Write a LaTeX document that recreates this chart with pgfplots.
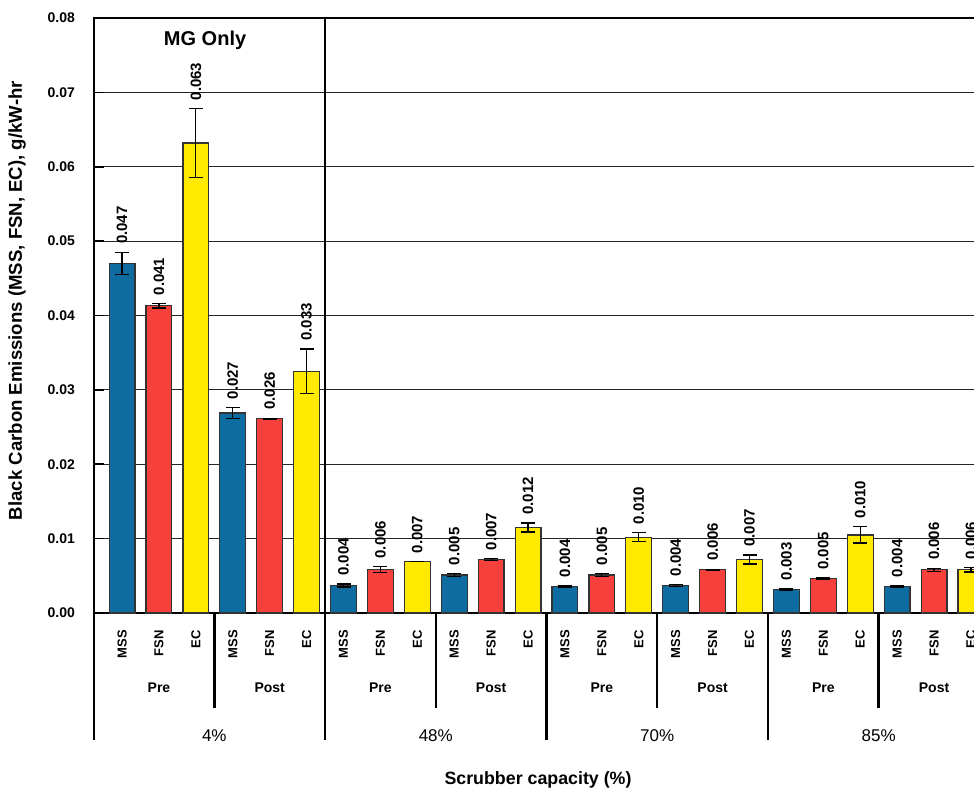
\documentclass[border=0pt]{standalone}
\usepackage{fontspec}
\setmainfont{Liberation Sans}
\usepackage{pgfplots}
\pgfplotsset{compat=1.18}
\usepackage{pgfplotstable}
\definecolor{cMSS}{RGB}{14,108,160}
\definecolor{cFSN}{RGB}{246,64,60}
\definecolor{cEC}{RGB}{255,234,0}

\pgfplotstableread{
x y e l
0 0.0470 0.0015 0.047
3 0.0269 0.0007 0.027
6 0.0037 0.0002 0.004
9 0.0051 0.0002 0.005
12 0.0036 0.0001 0.004
15 0.0037 0.0001 0.004
18 0.0032 0.0001 0.003
21 0.0036 0.0001 0.004
}\mss
\pgfplotstableread{
x y e l
1 0.0413 0.0003 0.041
4 0.0261 0.0001 0.026
7 0.0058 0.0004 0.006
10 0.0072 0.0001 0.007
13 0.0051 0.0002 0.005
16 0.0058 0.0001 0.006
19 0.0046 0.0001 0.005
22 0.0058 0.0002 0.006
}\fsn
\pgfplotstableread{
x y e l
2 0.0632 0.0046 0.063
5 0.0325 0.0030 0.033
8 0.0069 0.0000 0.007
11 0.0115 0.0006 0.012
14 0.0102 0.0006 0.010
17 0.0072 0.0006 0.007
20 0.0105 0.0011 0.010
23 0.0058 0.0003 0.006
}\ec

\newcommand{\fs}[1]{\fontsize{#1}{#1}\selectfont}

\begin{document}
\begin{tikzpicture}
\clip (-47pt,-87pt) rectangle (440pt,306.5pt);
\begin{axis}[
  scale only axis, width=452.5pt, height=297.5pt,
  xmin=-0.76, xmax=23.76, ymin=0, ymax=0.08,
  clip=false,
  axis line style={line width=1.4pt},
  ytick={0,0.01,0.02,0.03,0.04,0.05,0.06,0.07,0.08},
  yticklabels={0.00,0.01,0.02,0.03,0.04,0.05,0.06,0.07,0.08},
  ytick pos=left, tick align=inside, major tick length=5pt,
  ytick style={line width=0.8pt, black},
  yticklabel style={font=\fs{7}\bfseries, xshift=-6pt},
  ymajorgrids, grid style={line width=0.6pt, black!85},
  xtick={0,...,23},
  xticklabels={MSS,FSN,EC,MSS,FSN,EC,MSS,FSN,EC,MSS,FSN,EC,MSS,FSN,EC,MSS,FSN,EC,MSS,FSN,EC,MSS,FSN,EC},
  xtick style={draw=none},
  xticklabel style={rotate=90, anchor=east, font=\fs{6.5}\bfseries},
  xticklabel shift=5pt,
  every node near coord/.append style={rotate=90, anchor=west, inner xsep=4pt, inner ysep=0pt, font=\fs{7.5}\bfseries, black},
]
\addplot[ybar, bar width=0.7, bar shift=0pt, fill=cMSS, draw=black!80, line width=0.6pt,
  error bars/.cd, y dir=both, y explicit, error bar style={black, line width=0.6pt},
  error mark options={black, rotate=90, mark size=3.5pt, line width=0.6pt}]
  table[x=x, y=y, y error=e]{\mss};
\addplot[ybar, bar width=0.7, bar shift=0pt, fill=cFSN, draw=black!80, line width=0.6pt,
  error bars/.cd, y dir=both, y explicit, error bar style={black, line width=0.6pt},
  error mark options={black, rotate=90, mark size=3.5pt, line width=0.6pt}]
  table[x=x, y=y, y error=e]{\fsn};
\addplot[ybar, bar width=0.7, bar shift=0pt, fill=cEC, draw=black!80, line width=0.6pt,
  error bars/.cd, y dir=both, y explicit, error bar style={black, line width=0.6pt},
  error mark options={black, rotate=90, mark size=3.5pt, line width=0.6pt}]
  table[x=x, y=y, y error=e]{\ec};

\addplot[draw=none, mark=none, nodes near coords, point meta=explicit symbolic]
  table[x=x, y expr=\thisrow{y}+\thisrow{e}, meta=l]{\mss};
\addplot[draw=none, mark=none, nodes near coords, point meta=explicit symbolic]
  table[x=x, y expr=\thisrow{y}+\thisrow{e}, meta=l]{\fsn};
\addplot[draw=none, mark=none, nodes near coords, point meta=explicit symbolic]
  table[x=x, y expr=\thisrow{y}+\thisrow{e}, meta=l]{\ec};

\draw[line width=1.4pt] (axis cs:-0.76,0) -- ([yshift=-63.5pt]axis cs:-0.76,0);
\draw[line width=1.4pt] (axis cs:5.5,0.08) -- ([yshift=-63.5pt]axis cs:5.5,0);
\draw[line width=1.2pt] (axis cs:11.5,0) -- ([yshift=-63.5pt]axis cs:11.5,0);
\draw[line width=1.2pt] (axis cs:17.5,0) -- ([yshift=-63.5pt]axis cs:17.5,0);
\draw[line width=1.2pt] (axis cs:2.5,0) -- ([yshift=-47.5pt]axis cs:2.5,0);
\draw[line width=1.2pt] (axis cs:8.5,0) -- ([yshift=-47.5pt]axis cs:8.5,0);
\draw[line width=1.2pt] (axis cs:14.5,0) -- ([yshift=-47.5pt]axis cs:14.5,0);
\draw[line width=1.2pt] (axis cs:20.5,0) -- ([yshift=-47.5pt]axis cs:20.5,0);

\node[font=\fs{7}\bfseries] at ([yshift=-37.5pt]axis cs:1,0) {Pre};
\node[font=\fs{7}\bfseries] at ([yshift=-37.5pt]axis cs:4,0) {Post};
\node[font=\fs{7}\bfseries] at ([yshift=-37.5pt]axis cs:7,0) {Pre};
\node[font=\fs{7}\bfseries] at ([yshift=-37.5pt]axis cs:10,0) {Post};
\node[font=\fs{7}\bfseries] at ([yshift=-37.5pt]axis cs:13,0) {Pre};
\node[font=\fs{7}\bfseries] at ([yshift=-37.5pt]axis cs:16,0) {Post};
\node[font=\fs{7}\bfseries] at ([yshift=-37.5pt]axis cs:19,0) {Pre};
\node[font=\fs{7}\bfseries] at ([yshift=-37.5pt]axis cs:22,0) {Post};

\node[font=\fs{8.5}] at ([yshift=-61.5pt]axis cs:2.5,0) {4\%};
\node[font=\fs{8.5}] at ([yshift=-61.5pt]axis cs:8.5,0) {48\%};
\node[font=\fs{8.5}] at ([yshift=-61.5pt]axis cs:14.5,0) {70\%};
\node[font=\fs{8.5}] at ([yshift=-61.5pt]axis cs:20.5,0) {85\%};

\node[font=\fs{8.9}\bfseries] at ([yshift=-83.5pt]axis cs:11.27,0) {Scrubber capacity (\%)};
\node[font=\fs{9.3}\bfseries, rotate=90] at ([xshift=-38.5pt]axis cs:-0.76,0.042) {Black Carbon Emissions (MSS, FSN, EC), g/kW-hr};
\node[font=\fs{10}\bfseries] at (axis cs:2.25,0.077) {MG Only};
\end{axis}
\end{tikzpicture}
\end{document}
